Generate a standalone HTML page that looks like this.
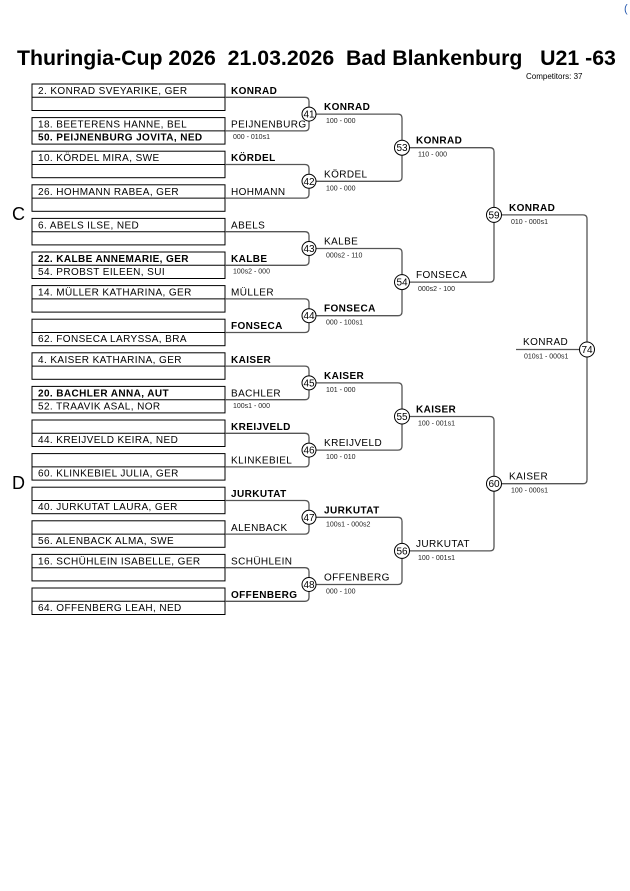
<!DOCTYPE html>
<html><head><meta charset="utf-8"><style>
html,body{margin:0;padding:0;background:#fff;}
svg{display:block;font-family:"Liberation Sans",Arial,sans-serif;}
.n{font-size:10px;letter-spacing:0.4px;fill:#000}
.b{font-weight:bold}
.s{font-size:7px;fill:#222}
.bx{fill:none;stroke:#000;stroke-width:1}
.ln{fill:none;stroke:#555;stroke-width:1.3}
.c{fill:#fff;stroke:#000;stroke-width:1}
.ct{font-size:10px;text-anchor:middle;fill:#000}
</style></head><body>
<svg width="630" height="891" viewBox="0 0 630 891">
<text x="624" y="12" font-size="11" fill="#2a5cb0">(</text>
<text x="17" y="65" font-size="21.3" font-weight="bold" xml:space="preserve">Thuringia-Cup 2026  21.03.2026  Bad Blankenburg   U21 -63</text>
<text x="526" y="79" font-size="8">Competitors: 37</text>
<text x="12" y="220" font-size="18">C</text>
<text x="12" y="489" font-size="18">D</text>

<g class="bx">
<rect x="32" y="84" width="193" height="26.5"/><line x1="32" y1="97.3" x2="225" y2="97.3"/>
<rect x="32" y="117.6" width="193" height="26.5"/><line x1="32" y1="130.9" x2="225" y2="130.9"/>
<rect x="32" y="151.2" width="193" height="26.5"/><line x1="32" y1="164.5" x2="225" y2="164.5"/>
<rect x="32" y="184.8" width="193" height="26.5"/><line x1="32" y1="198.1" x2="225" y2="198.1"/>
<rect x="32" y="218.4" width="193" height="26.5"/><line x1="32" y1="231.7" x2="225" y2="231.7"/>
<rect x="32" y="252" width="193" height="26.5"/><line x1="32" y1="265.3" x2="225" y2="265.3"/>
<rect x="32" y="285.6" width="193" height="26.5"/><line x1="32" y1="298.9" x2="225" y2="298.9"/>
<rect x="32" y="319.2" width="193" height="26.5"/><line x1="32" y1="332.5" x2="225" y2="332.5"/>
<rect x="32" y="352.8" width="193" height="26.5"/><line x1="32" y1="366.1" x2="225" y2="366.1"/>
<rect x="32" y="386.4" width="193" height="26.5"/><line x1="32" y1="399.7" x2="225" y2="399.7"/>
<rect x="32" y="420" width="193" height="26.5"/><line x1="32" y1="433.3" x2="225" y2="433.3"/>
<rect x="32" y="453.6" width="193" height="26.5"/><line x1="32" y1="466.9" x2="225" y2="466.9"/>
<rect x="32" y="487.2" width="193" height="26.5"/><line x1="32" y1="500.5" x2="225" y2="500.5"/>
<rect x="32" y="520.8" width="193" height="26.5"/><line x1="32" y1="534.1" x2="225" y2="534.1"/>
<rect x="32" y="554.4" width="193" height="26.5"/><line x1="32" y1="567.7" x2="225" y2="567.7"/>
<rect x="32" y="588" width="193" height="26.5"/><line x1="32" y1="601.3" x2="225" y2="601.3"/>
</g>
<g class="n">
<text x="38" y="94">2. KONRAD SVEYARIKE, GER</text>
<text x="38" y="127.6">18. BEETERENS HANNE, BEL</text>
<text x="38" y="140.6" class="b">50. PEIJNENBURG JOVITA, NED</text>
<text x="38" y="161.2">10. KÖRDEL MIRA, SWE</text>
<text x="38" y="194.8">26. HOHMANN RABEA, GER</text>
<text x="38" y="228.4">6. ABELS ILSE, NED</text>
<text x="38" y="262" class="b">22. KALBE ANNEMARIE, GER</text>
<text x="38" y="275">54. PROBST EILEEN, SUI</text>
<text x="38" y="295.6">14. MÜLLER KATHARINA, GER</text>
<text x="38" y="342.2">62. FONSECA LARYSSA, BRA</text>
<text x="38" y="362.8">4. KAISER KATHARINA, GER</text>
<text x="38" y="396.4" class="b">20. BACHLER ANNA, AUT</text>
<text x="38" y="409.4">52. TRAAVIK ASAL, NOR</text>
<text x="38" y="443">44. KREIJVELD KEIRA, NED</text>
<text x="38" y="476.6">60. KLINKEBIEL JULIA, GER</text>
<text x="38" y="510.2">40. JURKUTAT LAURA, GER</text>
<text x="38" y="543.8">56. ALENBACK ALMA, SWE</text>
<text x="38" y="564.4">16. SCHÜHLEIN ISABELLE, GER</text>
<text x="38" y="611">64. OFFENBERG LEAH, NED</text>
</g>

<g class="ln">
<path d="M225,97.3H305Q309,97.3 309,101.3V126.9Q309,130.9 305,130.9H225"/>
<path d="M225,164.5H305Q309,164.5 309,168.5V194.1Q309,198.1 305,198.1H225"/>
<path d="M225,231.7H305Q309,231.7 309,235.7V261.3Q309,265.3 305,265.3H225"/>
<path d="M225,298.9H305Q309,298.9 309,302.9V328.5Q309,332.5 305,332.5H225"/>
<path d="M225,366.1H305Q309,366.1 309,370.1V395.7Q309,399.7 305,399.7H225"/>
<path d="M225,433.3H305Q309,433.3 309,437.3V462.9Q309,466.9 305,466.9H225"/>
<path d="M225,500.5H305Q309,500.5 309,504.5V530.1Q309,534.1 305,534.1H225"/>
<path d="M225,567.7H305Q309,567.7 309,571.7V597.3Q309,601.3 305,601.3H225"/>
<path d="M309,114.1H398Q402,114.1 402,118.1V177.3Q402,181.3 398,181.3H309"/>
<path d="M309,248.5H398Q402,248.5 402,252.5V311.7Q402,315.7 398,315.7H309"/>
<path d="M309,382.9H398Q402,382.9 402,386.9V446.1Q402,450.1 398,450.1H309"/>
<path d="M309,517.3H398Q402,517.3 402,521.3V580.5Q402,584.5 398,584.5H309"/>
<path d="M402,147.7H490Q494,147.7 494,151.7V278.1Q494,282.1 490,282.1H402"/>
<path d="M402,416.5H490Q494,416.5 494,420.5V546.9Q494,550.9 490,550.9H402"/>
<path d="M494,214.9H583Q587,214.9 587,218.9V479.7Q587,483.7 583,483.7H494"/>
<path d="M516,349.5H581"/>
</g>

<g>
<circle class="c" cx="309" cy="114.1" r="7"/><text class="ct" x="309" y="117.6">41</text>
<circle class="c" cx="309" cy="181.3" r="7"/><text class="ct" x="309" y="184.8">42</text>
<circle class="c" cx="309" cy="248.5" r="7"/><text class="ct" x="309" y="252">43</text>
<circle class="c" cx="309" cy="315.7" r="7"/><text class="ct" x="309" y="319.2">44</text>
<circle class="c" cx="309" cy="382.9" r="7"/><text class="ct" x="309" y="386.4">45</text>
<circle class="c" cx="309" cy="450.1" r="7"/><text class="ct" x="309" y="453.6">46</text>
<circle class="c" cx="309" cy="517.3" r="7"/><text class="ct" x="309" y="520.8">47</text>
<circle class="c" cx="309" cy="584.5" r="7"/><text class="ct" x="309" y="588">48</text>
<circle class="c" cx="402" cy="147.7" r="7.5"/><text class="ct" x="402" y="151.2">53</text>
<circle class="c" cx="402" cy="282.1" r="7.5"/><text class="ct" x="402" y="285.6">54</text>
<circle class="c" cx="402" cy="416.5" r="7.5"/><text class="ct" x="402" y="420">55</text>
<circle class="c" cx="402" cy="550.9" r="7.5"/><text class="ct" x="402" y="554.4">56</text>
<circle class="c" cx="494" cy="214.9" r="7.5"/><text class="ct" x="494" y="218.4">59</text>
<circle class="c" cx="494" cy="483.7" r="7.5"/><text class="ct" x="494" y="487.2">60</text>
<circle class="c" cx="587" cy="349.5" r="7.5"/><text class="ct" x="587" y="353">74</text>
</g>

<g class="n">
<text x="231" y="94" class="b">KONRAD</text>
<text x="231" y="127.6">PEIJNENBURG</text>
<text x="231" y="161.2" class="b">KÖRDEL</text>
<text x="231" y="194.8">HOHMANN</text>
<text x="231" y="228.4">ABELS</text>
<text x="231" y="262" class="b">KALBE</text>
<text x="231" y="295.6">MÜLLER</text>
<text x="231" y="329.2" class="b">FONSECA</text>
<text x="231" y="362.8" class="b">KAISER</text>
<text x="231" y="396.4">BACHLER</text>
<text x="231" y="430" class="b">KREIJVELD</text>
<text x="231" y="463.6">KLINKEBIEL</text>
<text x="231" y="497.2" class="b">JURKUTAT</text>
<text x="231" y="530.8">ALENBACK</text>
<text x="231" y="564.4">SCHÜHLEIN</text>
<text x="231" y="598" class="b">OFFENBERG</text>
</g>
<g class="s">
<text x="233" y="139">000 - 010s1</text>
<text x="233" y="273.5">100s2 - 000</text>
<text x="233" y="408">100s1 - 000</text>
</g>

<g class="n">
<text x="324" y="110" class="b">KONRAD</text>
<text x="324" y="177.3">KÖRDEL</text>
<text x="324" y="244.5">KALBE</text>
<text x="324" y="311.7" class="b">FONSECA</text>
<text x="324" y="378.9" class="b">KAISER</text>
<text x="324" y="446.1">KREIJVELD</text>
<text x="324" y="513.3" class="b">JURKUTAT</text>
<text x="324" y="580.5">OFFENBERG</text>
</g>
<g class="s">
<text x="326" y="123">100 - 000</text>
<text x="326" y="190.3">100 - 000</text>
<text x="326" y="257.5">000s2 - 110</text>
<text x="326" y="324.7">000 - 100s1</text>
<text x="326" y="391.9">101 - 000</text>
<text x="326" y="459.1">100 - 010</text>
<text x="326" y="526.3">100s1 - 000s2</text>
<text x="326" y="593.5">000 - 100</text>
</g>

<g class="n">
<text x="416" y="143.7" class="b">KONRAD</text>
<text x="416" y="278.1">FONSECA</text>
<text x="416" y="412.5" class="b">KAISER</text>
<text x="416" y="546.9">JURKUTAT</text>
</g>
<g class="s">
<text x="418" y="156.7">110 - 000</text>
<text x="418" y="291.1">000s2 - 100</text>
<text x="418" y="425.5">100 - 001s1</text>
<text x="418" y="559.9">100 - 001s1</text>
</g>

<g class="n">
<text x="509" y="210.9" class="b">KONRAD</text>
<text x="509" y="479.7">KAISER</text>
<text x="523" y="345">KONRAD</text>
</g>
<g class="s">
<text x="511" y="223.9">010 - 000s1</text>
<text x="511" y="492.7">100 - 000s1</text>
<text x="524" y="358.5">010s1 - 000s1</text>
</g>
</svg>
</body></html>
